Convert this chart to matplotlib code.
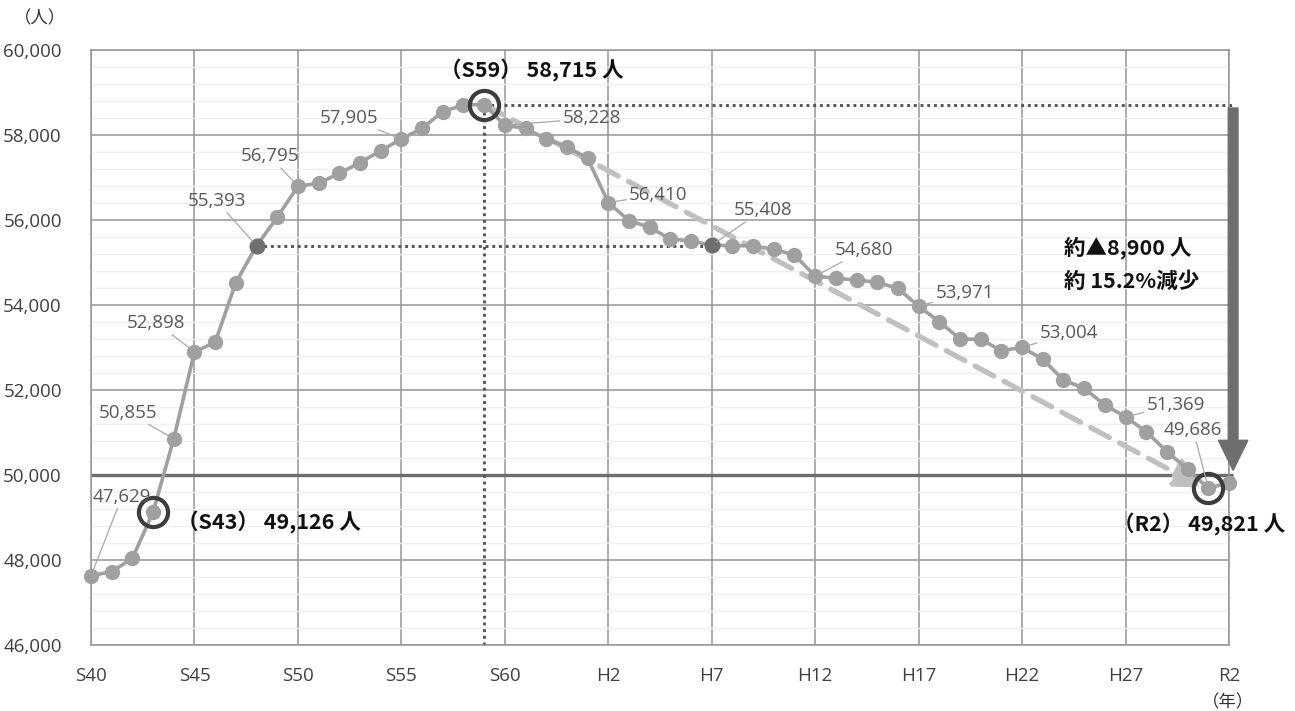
import matplotlib
matplotlib.use("Agg")
import matplotlib.pyplot as plt
from matplotlib.ticker import MultipleLocator

# ---- data -------------------------------------------------------------
years = list(range(1965, 2021))
population = [
    47629, 47725, 48040, 49126, 50855, 52898, 53122, 54525, 55393, 56063,
    56795, 56863, 57099, 57348, 57631, 57905, 58157, 58549, 58706, 58715,
    58228, 58157, 57906, 57725, 57451, 56410, 55984, 55828, 55553, 55506,
    55408, 55396, 55390, 55310, 55176, 54680, 54628, 54588, 54534, 54392,
    53971, 53608, 53200, 53192, 52925, 53004, 52722, 52235, 52039, 51647,
    51369, 51020, 50549, 50134, 49686, 49821,
]
tick_years = [1965, 1970, 1975, 1980, 1985, 1990, 1995, 2000, 2005, 2010, 2015, 2020]
tick_labels = ["S40", "S45", "S50", "S55", "S60", "H2", "H7", "H12", "H17", "H22", "H27", "R2"]
y_ticks = [46000, 48000, 50000, 52000, 54000, 56000, 58000, 60000]

labeled_years = [1965, 1969, 1970, 1973, 1975, 1980, 1985, 1990, 1995, 2000, 2005, 2010, 2015, 2019]
label_offsets = {  # text centre offset from the point, in pixels
    1965: (31, 79), 1969: (-46, 26), 1970: (-38, 29), 1973: (-40, 45),
    1975: (-28, 30), 1980: (-52, 21), 1985: (87, 7), 1990: (50, 8),
    1995: (51, 35), 2000: (49, 26), 2005: (46, 13), 2010: (47, 14),
    2015: (50, 12), 2019: (-15, 58),
}
highlight_years = [1973, 1995]
circled_years = [1968, 1984, 2019]

peak_year, start_year, end_year = 1984, 1968, 2020
pop = dict(zip(years, population))

# ---- figure -----------------------------------------------------------
W, H = 1295, 711
fig = plt.figure(figsize=(W / 100, H / 100), dpi=100)
ax = fig.add_axes([91 / W, 1 - 645 / H, (1229 - 91) / W, (645 - 50) / H])

grid_c = "#959595"
ax.set_xlim(1965, 2020)
ax.set_ylim(46000, 60000)
ax.set_xticks(tick_years)
ax.set_xticklabels(tick_labels)
ax.set_yticks(y_ticks)
ax.set_yticklabels([f"{v:,}" for v in y_ticks])
ax.yaxis.set_minor_locator(MultipleLocator(400))
ax.grid(which="major", color=grid_c, lw=1.1, zorder=0)
ax.grid(which="minor", axis="y", color="#efefef", lw=1.0, zorder=0)
ax.tick_params(which="both", length=0)
ax.tick_params(axis="x", pad=16, labelsize=13.5, labelcolor="#404040")
ax.tick_params(axis="y", pad=21, labelsize=13.5, labelcolor="#404040")
for lab in ax.get_xticklabels() + ax.get_yticklabels():
    lab.set_family(["Open Sans", "DejaVu Sans"])
for s in ax.spines.values():
    s.set_color(grid_c)
    s.set_linewidth(1.1)
ax.set_axisbelow(True)

# 50,000 reference line
ax.plot([1965, 2020.2], [50000, 50000], color="#6e6e6e", lw=2.4, zorder=2,
        clip_on=False, solid_capstyle="butt")

# dotted guides
dot = dict(color="#555555", lw=2.1, linestyle=(0, (1, 1.3)), zorder=2, clip_on=False)
ax.plot([peak_year, peak_year], [46000, pop[peak_year]], **dot)
ax.plot([peak_year, 2020.2], [pop[peak_year]] * 2, **dot)
ax.plot([highlight_years[0], highlight_years[1]], [pop[highlight_years[0]]] * 2, **dot)

# trend arrow from the peak
ax.annotate("", xy=(2019 - 0.25, pop[2019] + 20), xytext=(peak_year, pop[peak_year]),
            arrowprops=dict(arrowstyle="-|>,head_length=0.9,head_width=0.45",
                            color="#c0c0c0", lw=3.8, linestyle=(0, (4, 2.2)),
                            shrinkA=0, shrinkB=0, mutation_scale=20),
            zorder=3)

# population series
ax.plot(years, population, color="#a0a0a0", lw=2.6, marker="o", markersize=10,
        markerfacecolor="#a0a0a0", markeredgecolor="#a0a0a0", zorder=4, clip_on=False)
ax.plot(highlight_years, [pop[y] for y in highlight_years], "o", color="#6f6f6f",
        markersize=10.5, zorder=5)

# circled points
ax.plot(circled_years, [pop[y] for y in circled_years], "o", markersize=21,
        markerfacecolor="none", markeredgecolor="#3c3c3c", markeredgewidth=3.0,
        zorder=6, clip_on=False)

# value labels with leader lines
for y in labeled_years:
    dx, dy = label_offsets[y]
    ax.annotate(f"{pop[y]:,}", xy=(y, pop[y]), xytext=(dx, dy),
                textcoords="offset pixels", ha="center", va="center",
                fontsize=13.5, color="#595959", family=["Open Sans", "DejaVu Sans"],
                arrowprops=dict(arrowstyle="-", color="#a8a8a8", lw=0.9,
                                shrinkA=0, shrinkB=4),
                zorder=7)

# decrease arrow on the right
top_v = pop[peak_year] - 80
tip_v = 50110
head_len = 706
ax.arrow(2020.2, top_v, 0, -(top_v - tip_v - head_len), width=0.47,
         head_width=1.42, head_length=head_len, length_includes_head=False,
         color="#6e6e6e", clip_on=False, zorder=6)

# bold annotations
cjk_bold = dict(family=["Noto Sans CJK JP", "DejaVu Sans"], fontweight="bold",
                fontsize=15.5, color="#111111")
ax.annotate(f"（S43） {pop[start_year]:,} 人", xy=(start_year, pop[start_year]),
            xytext=(24, -10), textcoords="offset pixels", ha="left", va="center",
            **cjk_bold)
ax.annotate(f"（S59） {pop[peak_year]:,} 人", xy=(peak_year, pop[peak_year]),
            xytext=(-44, 34), textcoords="offset pixels", ha="left", va="center",
            **cjk_bold)
ax.annotate(f"（R2） {pop[end_year]:,} 人", xy=(end_year, pop[end_year]),
            xytext=(-30, -42), textcoords="offset pixels", ha="center", va="center",
            annotation_clip=False, **cjk_bold)

diff = round(pop[peak_year] - pop[end_year], -2)
rate = diff / pop[peak_year] * 100
fig.text(1064 / W, 1 - 248 / H, f"約▲{diff:,} 人", ha="left", va="center",
         **cjk_bold)
fig.text(1064 / W, 1 - 281 / H, f"約 {rate:.1f}%減少", ha="left", va="center",
         **cjk_bold)

# unit labels
unit = dict(family=["Noto Sans CJK JP", "DejaVu Sans"], fontsize=12.5, color="#333333")
fig.text(40 / W, 1 - 18 / H, "（人）", ha="center", va="center", **unit)
fig.text(1228 / W, 1 - 702 / H, "（年）", ha="center", va="center", **unit)

fig.savefig("out.png", dpi=100)
